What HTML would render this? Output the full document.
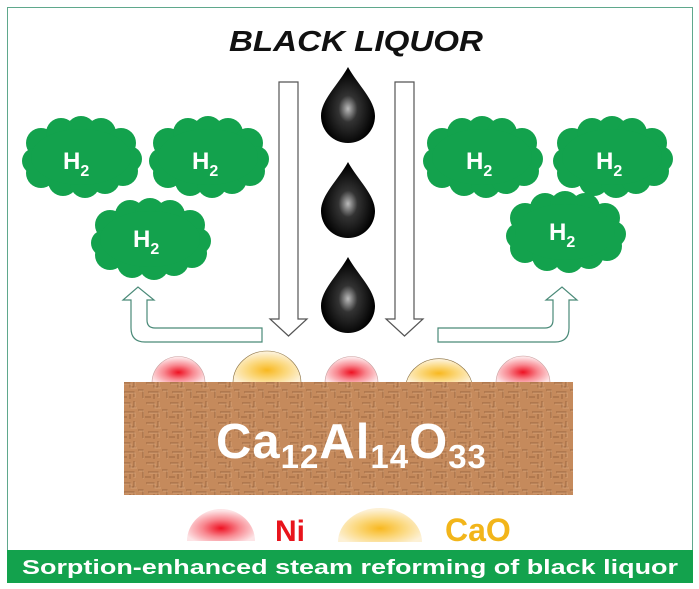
<!DOCTYPE html>
<html><head><meta charset="utf-8"><style>
body{margin:0;background:#fff}
svg{display:block}
text{font-family:"Liberation Sans",sans-serif;font-weight:bold}
</style></head><body>
<svg width="699" height="589" viewBox="0 0 699 589" xmlns="http://www.w3.org/2000/svg">
<defs>
<radialGradient id="drop" cx="0.5" cy="0.55" r="0.5">
<stop offset="0" stop-color="#bbb"/><stop offset="0.35" stop-color="#333"/><stop offset="1" stop-color="#000"/>
</radialGradient>
<radialGradient id="red" cx="0.5" cy="0.6" r="0.55">
<stop offset="0" stop-color="#ee1122"/><stop offset="0.5" stop-color="#f88890"/><stop offset="1" stop-color="#fde4e6"/>
</radialGradient>
<radialGradient id="yel" cx="0.5" cy="0.6" r="0.55">
<stop offset="0" stop-color="#f8b820"/><stop offset="0.5" stop-color="#fbd77a"/><stop offset="1" stop-color="#fdf1d6"/>
</radialGradient>
<pattern id="tex" width="24" height="20" patternUnits="userSpaceOnUse">
<rect width="24" height="20" fill="#c58a5c"/>
<path d="M2 3h8v4h6M14 1v6M4 12h10v5M18 10h5v8M1 17h6M10 14v5" stroke="#9a6640" stroke-width="1" fill="none"/>
<path d="M3 4h8v4h6M15 2v6M5 13h10v5M19 11h5v8" stroke="#dba77c" stroke-width="0.8" fill="none"/>
</pattern>
<g id="cloud" fill="#13a24d">
<circle cx="-40" cy="-14" r="15"/><circle cx="-20" cy="-24" r="15"/><circle cx="0" cy="-26" r="15"/><circle cx="20" cy="-24" r="15"/><circle cx="40" cy="-14" r="15"/>
<circle cx="-46" cy="4" r="13"/><circle cx="48" cy="2" r="13"/>
<circle cx="-40" cy="16" r="15"/><circle cx="-18" cy="24" r="15"/><circle cx="4" cy="26" r="15"/><circle cx="24" cy="22" r="15"/><circle cx="42" cy="14" r="15"/>
<ellipse cx="0" cy="0" rx="50" ry="28"/>
</g>
</defs>
<rect x="7.5" y="7.5" width="685" height="575" fill="#fff" stroke="#5fa88c" stroke-width="1"/>
<text x="229" y="51" font-size="29" font-style="italic" textLength="254" lengthAdjust="spacingAndGlyphs" fill="#111">BLACK LIQUOR</text>

<path d="M279 82H298V319H307L288.5 336L270 319H279Z" fill="#fff" stroke="#555" stroke-width="1.2"/>
<path d="M395 82H414V319H423L404.5 336L386 319H395Z" fill="#fff" stroke="#555" stroke-width="1.2"/>

<path d="M348 67C358 85 375 100 375 116A27 27 0 0 1 321 116C321 100 338 85 348 67Z" fill="url(#drop)"/>
<path d="M348 162C358 180 375 195 375 211A27 27 0 0 1 321 211C321 195 338 180 348 162Z" fill="url(#drop)"/>
<path d="M348 257C358 275 375 290 375 306A27 27 0 0 1 321 306C321 290 338 275 348 257Z" fill="url(#drop)"/>

<path d="M438 328H545Q553 328 553 320V300H546L562 287L577 300H569V328Q569 342 555 342H438Z" fill="#fff" stroke="#4a8a78" stroke-width="1.2"/>
<path d="M262 328H155Q147 328 147 320V300H154L138 287L123 300H131V328Q131 342 145 342H262Z" fill="#fff" stroke="#4a8a78" stroke-width="1.2"/>

<use href="#cloud" x="81" y="157"/>
<use href="#cloud" x="208" y="157"/>
<use href="#cloud" x="150" y="239"/>
<use href="#cloud" x="482" y="157"/>
<use href="#cloud" x="612" y="157"/>
<use href="#cloud" x="565" y="232"/>
<g fill="#fff" font-size="24">
<text x="63" y="169">H<tspan font-size="16" dy="7">2</tspan></text>
<text x="192" y="169">H<tspan font-size="16" dy="7">2</tspan></text>
<text x="133" y="247">H<tspan font-size="16" dy="7">2</tspan></text>
<text x="466" y="169">H<tspan font-size="16" dy="7">2</tspan></text>
<text x="596" y="169">H<tspan font-size="16" dy="7">2</tspan></text>
<text x="549" y="240">H<tspan font-size="16" dy="7">2</tspan></text>
</g>

<path d="M152 383A26 26 0 0 1 205 383Z" fill="url(#red)" stroke="#c9a0a0" stroke-width="0.6"/>
<path d="M233 383A34 32 0 0 1 301 383Z" fill="url(#yel)" stroke="#8a7040" stroke-width="0.6"/>
<path d="M325 383A26 26 0 0 1 378 383Z" fill="url(#red)" stroke="#c9a0a0" stroke-width="0.6"/>
<path d="M406 383A34 32 0 0 1 472 383Z" fill="url(#yel)" stroke="#8a7040" stroke-width="0.6"/>
<path d="M496 383A26 26 0 0 1 550 383Z" fill="url(#red)" stroke="#c9a0a0" stroke-width="0.6"/>

<rect x="124" y="382" width="449" height="113" fill="url(#tex)"/>
<text x="216" y="458" font-size="49" fill="#fff" letter-spacing="1">Ca<tspan font-size="33" dy="10">12</tspan><tspan dy="-10">Al</tspan><tspan font-size="33" dy="10">14</tspan><tspan dy="-10">O</tspan><tspan font-size="33" dy="10">33</tspan></text>

<path d="M187 541A34 32 0 0 1 255 541Z" fill="url(#red)"/>
<text x="275" y="541" font-size="30" fill="#e8141c">Ni</text>
<path d="M338 542A42 34 0 0 1 422 542Z" fill="url(#yel)"/>
<text x="445" y="541" font-size="32" fill="#f2b51a">CaO</text>

<rect x="7" y="550" width="686" height="33" fill="#13a24d"/>
<text x="22" y="574" font-size="20" fill="#fff" textLength="656" lengthAdjust="spacingAndGlyphs">Sorption-enhanced steam reforming of black liquor</text>
</svg>
</body></html>
